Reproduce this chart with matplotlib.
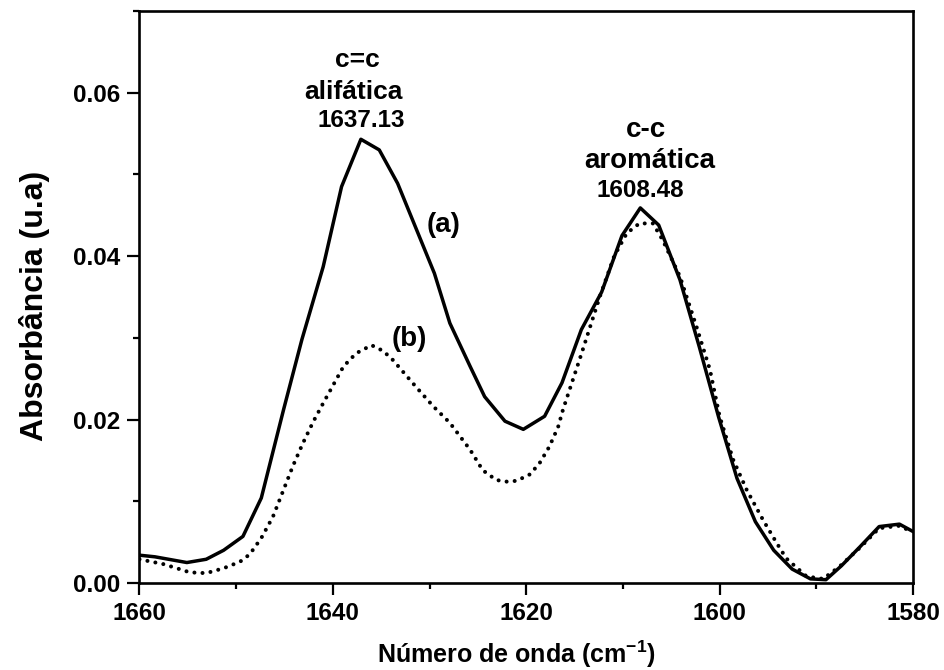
import matplotlib
matplotlib.use("Agg")
import matplotlib.pyplot as plt
from matplotlib.ticker import MultipleLocator, FormatStrFormatter

plt.rcParams["font.family"] = ["Liberation Sans", "DejaVu Sans"]
plt.rcParams["font.weight"] = "bold"
plt.rcParams["mathtext.fontset"] = "custom"
plt.rcParams["mathtext.rm"] = "Liberation Sans"
plt.rcParams["mathtext.bf"] = "Liberation Sans:bold"

# spectrum (a): solid line
wavenumber_a = [
    1660.0, 1658.4, 1655.1, 1653.1, 1651.3, 1649.3, 1647.4, 1645.1, 1643.2,
    1641.0, 1639.1, 1637.1, 1635.2, 1633.3, 1631.4, 1629.5, 1627.9, 1625.8,
    1624.3, 1622.2, 1620.3, 1618.1, 1616.3, 1614.3, 1612.2, 1610.1, 1608.2,
    1606.3, 1604.1, 1602.1, 1600.1, 1598.2, 1596.3, 1594.4, 1592.5, 1590.6,
    1589.0, 1587.4, 1585.5, 1583.5, 1581.4, 1580.0,
]
absorb_a = [
    0.0034, 0.0032, 0.0025, 0.0029, 0.0040, 0.0057, 0.0104, 0.0212, 0.0298,
    0.0387, 0.0485, 0.0543, 0.0530, 0.0489, 0.0434, 0.0379, 0.0318, 0.0265,
    0.0228, 0.0198, 0.0188, 0.0204, 0.0245, 0.0310, 0.0356, 0.0425, 0.0459,
    0.0438, 0.0371, 0.0289, 0.0203, 0.0128, 0.0075, 0.0040, 0.0017, 0.0005,
    0.0004, 0.0021, 0.0044, 0.0069, 0.0072, 0.0063,
]

# spectrum (b): dotted line
wavenumber_b = [
    1660.0, 1657.5, 1654.8, 1653.1, 1651.3, 1649.6, 1648.6, 1647.4, 1646.2,
    1645.1, 1644.1, 1643.1, 1642.0, 1641.0, 1638.9, 1637.6, 1636.0, 1634.8,
    1633.8, 1631.4, 1629.6, 1627.9, 1625.8, 1624.5, 1623.1, 1622.0, 1621.0,
    1619.6, 1618.6, 1617.6, 1616.7, 1616.2, 1614.3, 1612.4, 1610.9, 1609.6,
    1608.3, 1606.9, 1605.9, 1604.1, 1602.4, 1601.0, 1600.0, 1598.6, 1597.2,
    1595.5, 1594.1, 1593.1, 1591.0, 1589.3, 1587.6, 1585.5, 1583.5, 1581.4,
    1580.0,
]
absorb_b = [
    0.0029, 0.0023, 0.0013, 0.0012, 0.0018, 0.0026, 0.0035, 0.0055, 0.0081,
    0.0114, 0.0144, 0.0171, 0.0198, 0.0220, 0.0265, 0.0281, 0.0291, 0.0284,
    0.0273, 0.0240, 0.0216, 0.0196, 0.0163, 0.0138, 0.0126, 0.0124, 0.0125,
    0.0133, 0.0147, 0.0167, 0.0191, 0.0212, 0.0280, 0.0350, 0.0400, 0.0428,
    0.0440, 0.0440, 0.0420, 0.0375, 0.0314, 0.0261, 0.0204, 0.0151, 0.0114,
    0.0077, 0.0049, 0.0030, 0.0008, 0.0005, 0.0020, 0.0043, 0.0067, 0.0070,
    0.0062,
]

fig = plt.figure(figsize=(9.45, 6.70), dpi=100)
ax = fig.add_axes([0.1476, 0.1299, 0.8185, 0.8537])

ax.plot(wavenumber_b, absorb_b, color="black", linewidth=2.9,
        linestyle=(0, (0.01, 2.0)), dash_capstyle="round")
ax.plot(wavenumber_a, absorb_a, color="black", linewidth=2.5)

ax.set_xlim(1660, 1580)
ax.set_ylim(0, 0.07)
ax.xaxis.set_major_locator(MultipleLocator(20))
ax.xaxis.set_minor_locator(MultipleLocator(10))
ax.yaxis.set_major_locator(MultipleLocator(0.02))
ax.yaxis.set_minor_locator(MultipleLocator(0.01))
ax.yaxis.set_major_formatter(FormatStrFormatter("%.2f"))

for spine in ax.spines.values():
    spine.set_linewidth(1.9)
ax.tick_params(which="major", length=8.5, width=1.6, labelsize=17.5, pad=5)
ax.tick_params(which="minor", length=4.5, width=1.6)

ax.set_xlabel(r"Número de onda (cm$^{\mathbf{-1}}$)", fontsize=18,
              fontweight="bold", va="baseline")
ax.xaxis.set_label_coords(0.487, -0.14)
ax.set_ylabel("Absorbância (u.a)", fontsize=23, fontweight="bold",
              va="baseline")
ax.yaxis.set_label_coords(-0.125, 0.484)

# peak annotations
ax.text(1637.5, 0.0631, "c=c", ha="center", va="baseline", fontsize=19)
ax.text(1637.9, 0.0592, "alifática", ha="center", va="baseline", fontsize=19)
ax.text(1637.1, 0.0558, "1637.13", ha="center", va="baseline", fontsize=17.5)
ax.text(1607.6, 0.0546, "c-c", ha="center", va="baseline", fontsize=20)
ax.text(1607.2, 0.0508, "aromática", ha="center", va="baseline", fontsize=20)
ax.text(1608.2, 0.0472, "1608.48", ha="center", va="baseline", fontsize=17.5)
ax.text(1628.5, 0.0438, "(a)", ha="center", va="center", fontsize=20)
ax.text(1632.1, 0.0299, "(b)", ha="center", va="center", fontsize=20)

fig.savefig("out.png", dpi=100)
